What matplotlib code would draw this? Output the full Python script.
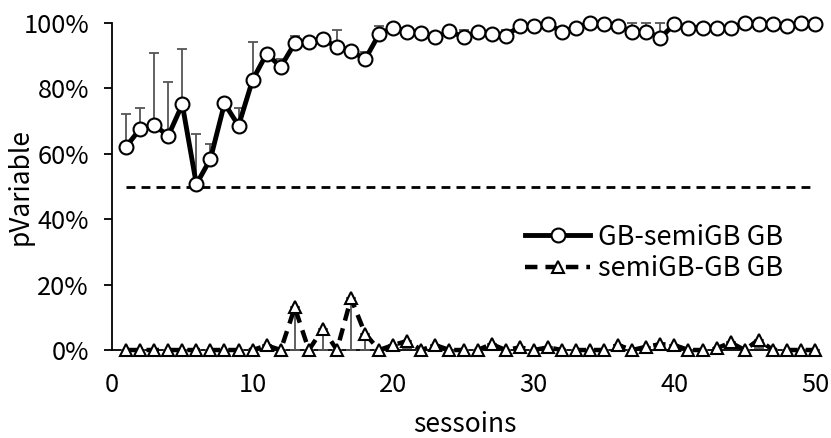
import matplotlib
matplotlib.use("Agg")
import matplotlib.pyplot as plt
from matplotlib.ticker import FuncFormatter

plt.rcParams['font.family'] = ['Noto Sans CJK SC', 'DejaVu Sans']

sessions = list(range(1, 51))

gb_semigb = [62.2, 67.6, 68.8, 65.5, 75.1, 50.7, 58.4, 75.4, 68.6, 82.6,
             90.6, 86.6, 93.8, 94.1, 95.1, 92.6, 91.5, 88.9, 96.6, 98.6,
             97.4, 97.0, 95.6, 97.6, 95.6, 97.4, 96.5, 96.0, 99.1, 99.1,
             99.6, 97.4, 98.6, 100.0, 99.6, 99.1, 97.4, 97.4, 95.5, 99.6,
             98.6, 98.6, 98.6, 98.6, 100.0, 99.6, 99.6, 99.1, 100.0, 99.6]
gb_semigb_err = [10.0, 6.5, 22.0, 16.5, 17.0, 15.3, 4.6, 0, 5.5, 11.5,
                 0, 2.3, 2.3, 0, 0, 5.3, 0, 2.3, 2.5, 0,
                 0, 0, 0, 0, 2.3, 0, 0, 1.9, 0, 0,
                 0, 0, 0, 0, 0, 0, 2.6, 2.6, 4.5, 0,
                 0, 0, 0, 0, 0, 0, 0, 0, 0, 0]

semigb_gb = [0, 0, 0, 0, 0, 0, 0, 0, 0, 0,
             1.4, 0, 13.0, 0, 6.5, 0, 15.8, 5.0, 0, 1.5,
             2.8, 0, 1.5, 0, 0, 0, 1.8, 0, 0.8, 0,
             0.8, 0, 0, 0, 0, 1.5, 0, 1.0, 1.8, 1.5,
             0, 0, 0.5, 2.3, 0, 3.2, 0, 0, 0, 0]
semigb_gb_err = [0, 0, 0, 0, 0, 0, 0, 0, 0, 0,
                 0, 0, 13.0, 0, 6.5, 0, 15.8, 5.0, 0, 0,
                 2.2, 0, 0, 0, 0, 0, 0, 0, 0, 0,
                 0, 0, 0, 0, 0, 0, 0, 0, 0, 0,
                 0, 0, 0, 0, 0, 2.6, 0, 0, 0, 0]

chance_level = 50.0

series_labels = ['GB-semiGB GB', 'semiGB-GB GB']
x_label = 'sessoins'
y_label = 'pVariable'
x_ticks = [0, 10, 20, 30, 40, 50]
y_ticks = [0, 20, 40, 60, 80, 100]

W, H = 831, 438
fig = plt.figure(figsize=(W / 100, H / 100), dpi=100)
ax = fig.add_axes([112 / W, 1 - 350 / H, (815 - 112) / W, (350 - 23) / H])

err_color = '#555555'
zeros = [0] * len(sessions)

# chance line
ax.hlines(chance_level, sessions[0], sessions[-1], colors='black',
          linestyles=(0, (3.2, 2.2)), linewidth=2.0, zorder=2)

# error bars
eb1 = ax.errorbar(sessions, gb_semigb, yerr=[zeros, gb_semigb_err], fmt='none',
                  ecolor=err_color, elinewidth=1.3, capsize=3.6, capthick=1.3, zorder=3)
eb2 = ax.errorbar(sessions, semigb_gb, yerr=[semigb_gb_err, zeros], fmt='none',
                  ecolor=err_color, elinewidth=1.3, capsize=3.6, capthick=1.3, zorder=3)
for eb in (eb1, eb2):
    for art in eb.lines[1] + eb.lines[2]:
        art.set_clip_on(False)

l1, = ax.plot(sessions, gb_semigb, color='black', linewidth=3.5, marker='o',
              markersize=10, markerfacecolor='white', markeredgecolor='black',
              markeredgewidth=1.5, label=series_labels[0], zorder=5, clip_on=False)
l2, = ax.plot(sessions, semigb_gb, color='black', linewidth=3.2,
              linestyle=(0, (2.8, 1.8)), marker='^', markersize=9,
              markerfacecolor='white', markeredgecolor='black', markeredgewidth=1.5,
              label=series_labels[1], zorder=5, clip_on=False)

ax.set_xlim(0, 50)
ax.set_ylim(0, 100)
ax.set_xticks(x_ticks)
ax.set_yticks(y_ticks)
ax.yaxis.set_major_formatter(FuncFormatter(lambda v, p: f'{v:.0f}%'))

for s in ('top', 'right'):
    ax.spines[s].set_visible(False)
ax.spines['left'].set_linewidth(1.3)
ax.spines['bottom'].set_linewidth(1.3)
ax.spines['bottom'].set_bounds(0, 50)

ax.tick_params(axis='y', direction='out', length=5.5, width=1.3, pad=11,
               labelsize=18.3)
ax.tick_params(axis='x', length=0, pad=16, labelsize=18.3)

ax.set_xlabel(x_label, fontsize=19)
ax.set_ylabel(y_label, fontsize=19)
ax.xaxis.set_label_coords(0.502, -0.229)
ax.yaxis.set_label_coords(-0.131, 0.5)
ax.xaxis.label.set_va('center')
ax.yaxis.label.set_va('center')

leg = fig.legend(handles=[l1, l2], loc='center left',
                 bbox_to_anchor=(525 / W, 1 - 253 / H), frameon=False,
                 fontsize=19.5, handlelength=2.4, handletextpad=0.28,
                 borderpad=0, borderaxespad=0, labelspacing=0.15)

fig.savefig('out.png', dpi=100)
